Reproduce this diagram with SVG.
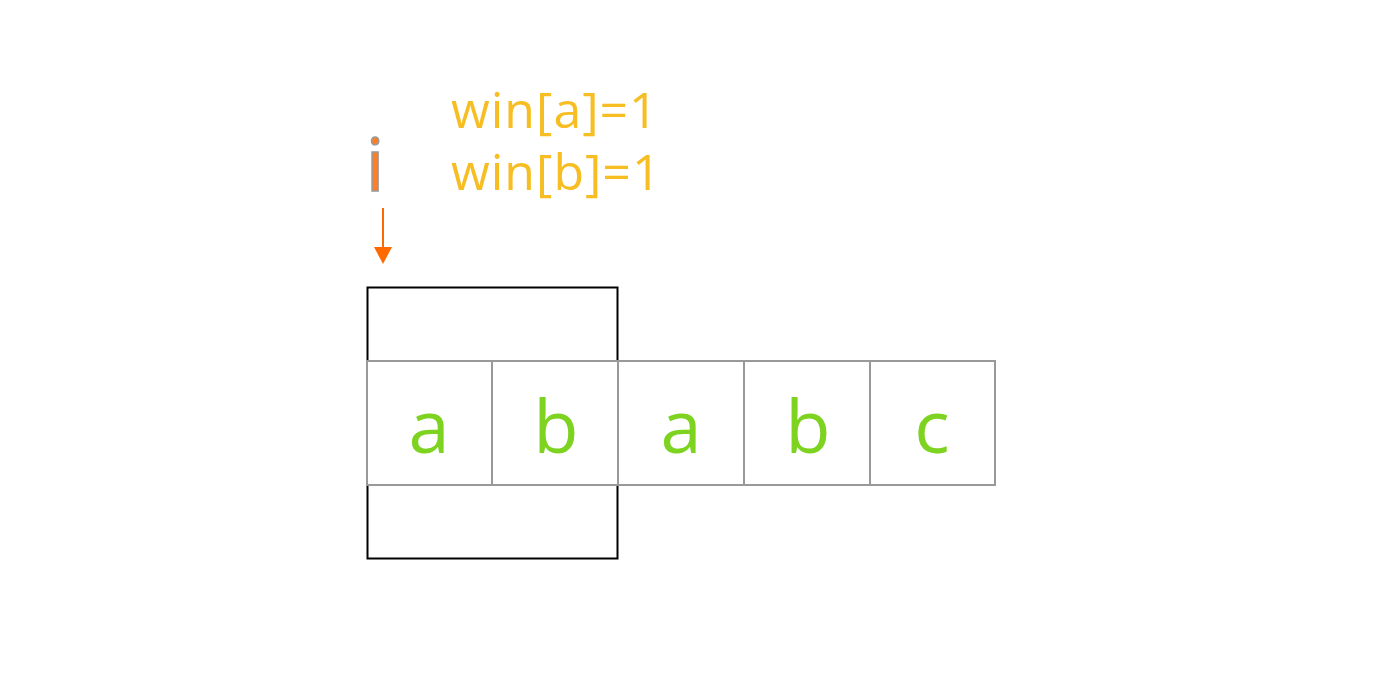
<svg xmlns="http://www.w3.org/2000/svg" width="1382" height="682" viewBox="0 0 1382 682">
<style>
.cell{fill:#fff;stroke:#999;stroke-width:2}
.lt{font-family:"Open Sans",sans-serif;font-size:74px;fill:#7ED321;text-anchor:middle}
.win{font-family:"Open Sans",sans-serif;font-size:50px;fill:#F6BE22;letter-spacing:1px}
</style>
<defs>
<marker id="ah" markerWidth="18" markerHeight="16" refX="0" refY="9" orient="auto" markerUnits="userSpaceOnUse" viewBox="0 0 16 18">
<path d="M0,0 L16,9 L0,18 Z" fill="#FF6A00"/>
</marker>
</defs>
<rect width="1382" height="682" fill="#fff"/>
<g id="window"><rect x="367.5" y="287.5" width="250" height="271" fill="none" stroke="#000" stroke-width="2"/></g>
<g id="cell1"><rect class="cell" x="367" y="361" width="125" height="124"/><text class="lt" x="429" y="453">a</text></g>
<g id="cell2"><rect class="cell" x="492" y="361" width="126" height="124"/><text class="lt" x="556" y="453">b</text></g>
<g id="cell3"><rect class="cell" x="618" y="361" width="126" height="124"/><text class="lt" x="681" y="453">a</text></g>
<g id="cell4"><rect class="cell" x="744" y="361" width="126" height="124"/><text class="lt" x="808" y="453">b</text></g>
<g id="cell5"><rect class="cell" x="870" y="361" width="125" height="124"/><text class="lt" x="932" y="453">c</text></g>
<g id="label-i"><text x="375" y="191" font-family="Open Sans,sans-serif" font-size="74" fill="#FF7F27" stroke="#999" stroke-width="1.5" text-anchor="middle">i</text></g>
<g id="win-text"><text class="win" x="451" y="128">win[a]=1</text><text class="win" x="451" y="190">win[b]=1</text></g>
<g id="connectors"><line x1="383" y1="208" x2="383" y2="248" stroke="#FF6A00" stroke-width="2"/><path d="M374,247 L392,247 L383,264 Z" fill="#FF6A00"/></g>
</svg>
